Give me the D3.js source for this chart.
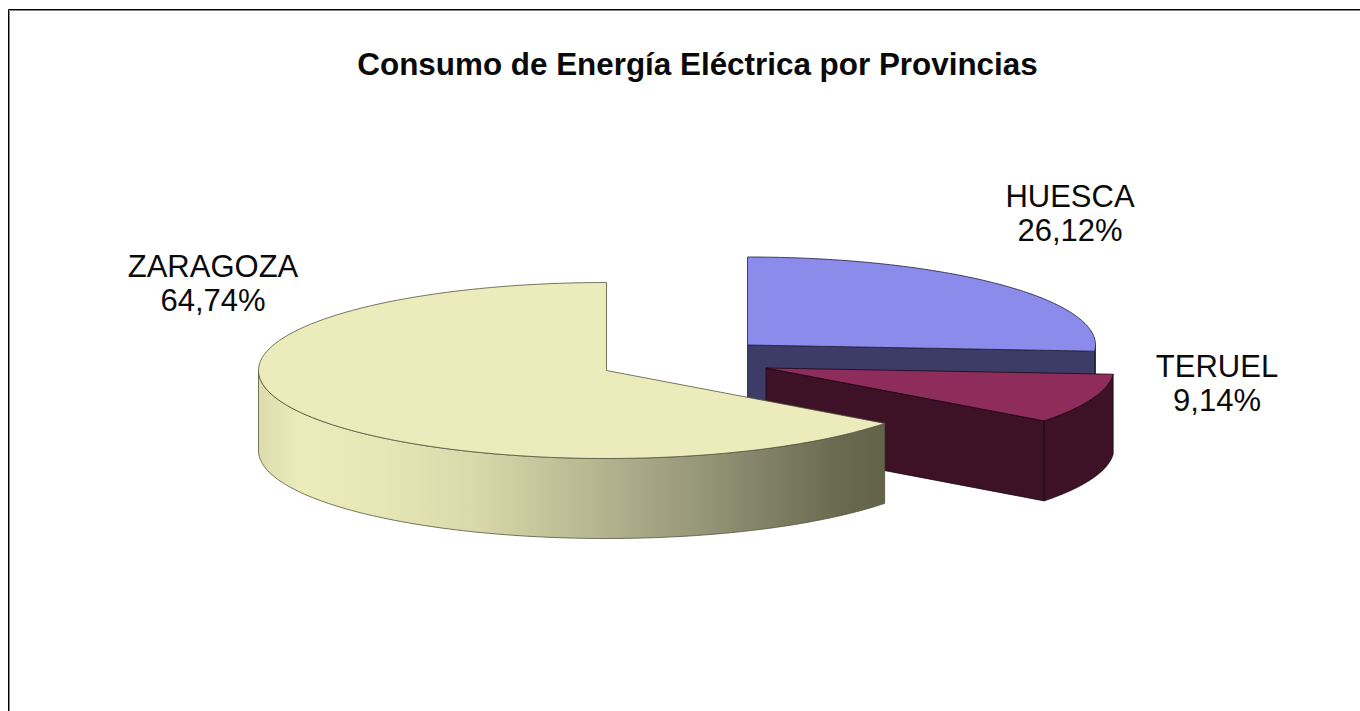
<!DOCTYPE html>
<html><head><meta charset="utf-8">
<style>html,body{margin:0;padding:0;background:#fff;overflow:hidden}svg{display:block}text{font-family:"Liberation Sans",Arial,sans-serif;fill:#0a0a0a}</style>
<script src="https://cdn.jsdelivr.net/npm/d3@7/dist/d3.min.js"></script>
</head><body><svg id="c" width="1360" height="711"></svg>
<script>
const titleText = "Consumo de Energía Eléctrica por Provincias";
const categories = ["HUESCA", "TERUEL", "ZARAGOZA"];
const values = [26.12, 9.14, 64.74];
const valueLabels = ["26,12%", "9,14%", "64,74%"];
const topColors = ["#8b8bec", "#8e2c5c", "#ebebbb"];
const sideColors = ["#3d3c66", "#3d1226", null];
const centers = [[747.5, 345], [766, 368], [606.5, 370.5]];
const labelPos = [[1070, 207], [1217, 377], [213, 277]];
const RX = 348, RY = 88, DEPTH = 80;

const svg = d3.select("#c");
const xUnit = d3.scaleLinear().domain([-1, 1]).range([-RX, RX]);
const yUnit = d3.scaleLinear().domain([-1, 1]).range([RY, -RY]);
const pt = (c, a, dy = 0) => [c[0] + xUnit(Math.sin(a)), c[1] + yUnit(Math.cos(a)) + dy];
const arcPts = (c, a0, a1, dy = 0) => d3.range(0, 121).map(i => pt(c, a0 + (a1 - a0) * i / 120, dy));
const line = d3.line();

const pie = d3.pie().sort(null).value(d => d)(values);

// gradient for the long curved wall
const defs = svg.append("defs");
const grad = defs.append("linearGradient").attr("id", "wall").attr("gradientUnits", "userSpaceOnUse")
  .attr("x1", 258).attr("x2", 885).attr("y1", 0).attr("y2", 0);
[[0, "#dcdcac"], [0.07, "#ebebbb"], [0.2, "#e6e6b6"], [0.35, "#d8d8ab"], [0.5, "#bdbd95"],
 [0.65, "#a1a181"], [0.8, "#83836a"], [0.93, "#69694f"], [1, "#63634b"]]
 .forEach(s => grad.append("stop").attr("offset", s[0]).attr("stop-color", s[1]));

// frame
svg.append("path").attr("d", "M1360,9.5H8.5V711").attr("fill", "none").attr("stroke", "#000").attr("stroke-width", 1);
svg.append("path").attr("d", "M1360,10.5H9.5V711").attr("fill", "none").attr("stroke", "#888").attr("stroke-width", 1);

svg.append("text").attr("x", 697.5).attr("y", 75).attr("text-anchor", "middle")
  .attr("font-size", 31.4).attr("font-weight", "bold").text(titleText);

const FRONT_L = 1.5 * Math.PI, FRONT_R = 0.5 * Math.PI;
pie.forEach((p, i) => {
  const c = centers[i], a0 = p.startAngle, a1 = p.endAngle;
  const g = svg.append("g").attr("class", "slice");
  const stroke = i === 2 ? "#55553f" : (i === 1 ? "#1c0812" : "#1e1e3a");
  const wallFill = sideColors[i] || "url(#wall)";
  // radial cut wall at end angle, visible for slices ending on the right side
  if (a1 < Math.PI) {
    const e = pt(c, a1);
    g.append("path").attr("fill", wallFill).attr("stroke", stroke).attr("stroke-width", 0.8)
      .attr("d", line([c, e, [e[0], e[1] + DEPTH], [c[0], c[1] + DEPTH]]) + "Z");
  }
  // outer wall
  const w0 = Math.max(a0, FRONT_R), w1 = Math.min(a1, FRONT_L);
  if (w1 > w0) {
    g.append("path").attr("fill", wallFill).attr("stroke", stroke).attr("stroke-width", 0.8)
      .attr("d", line(arcPts(c, w0, w1).concat(arcPts(c, w1, w0, DEPTH))) + "Z");
  }
  // top face
  g.append("path").attr("fill", topColors[i]).attr("stroke", stroke).attr("stroke-width", 0.8)
    .attr("stroke-linejoin", "round")
    .attr("d", line([c].concat(arcPts(c, a0, a1))) + "Z");
});

categories.forEach((name, i) => {
  const t = svg.append("text").attr("text-anchor", "middle").attr("font-size", 31);
  t.append("tspan").attr("x", labelPos[i][0]).attr("y", labelPos[i][1]).text(name);
  t.append("tspan").attr("x", labelPos[i][0]).attr("y", labelPos[i][1] + 34).text(valueLabels[i]);
});
</script></body></html>
